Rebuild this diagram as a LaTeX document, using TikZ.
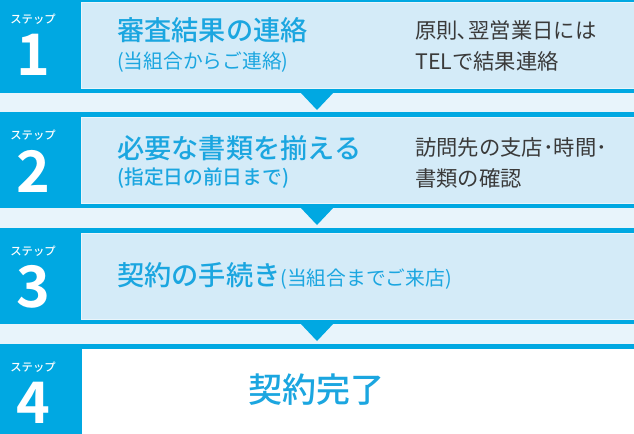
\documentclass[tikz,border=0pt]{standalone}
\usepackage{fontspec}
\setmainfont{Noto Sans CJK JP}[BoldFont={Noto Sans CJK JP Medium}]
\newfontfamily\numfont{Noto Sans CJK JP Bold}
\definecolor{stepblue}{HTML}{00A8E2}
\definecolor{boxblue}{HTML}{D4EBF8}
\definecolor{gapblue}{HTML}{E8F4FB}
\definecolor{headblue}{HTML}{1BA6E0}
\definecolor{notegray}{HTML}{3A3A3A}
\begin{document}
\begin{tikzpicture}[x=0.75pt,y=-0.75pt,
  steplabel/.style={text=white,inner sep=0,font=\fontsize{8.5}{9}\selectfont\bfseries},
  stepnum/.style={text=white,inner sep=0,font=\fontsize{43}{43}\selectfont\numfont},
  headtext/.style={text=headblue,anchor=west,inner sep=0,font=\fontsize{20.4}{24}\selectfont\bfseries},
  subtext/.style={text=headblue,anchor=west,inner sep=0,font=\fontsize{14.8}{16}\selectfont},
  notetext/.style={text=notegray,anchor=west,inner sep=0,align=left,font=\fontsize{16}{23}\selectfont},
  donetext/.style={text=headblue,inner sep=0,font=\fontsize{25.5}{30}\selectfont\bfseries}]
\useasboundingbox (0,0) rectangle (634,433);
\fill[gapblue] (0,0) rectangle (634,433);
% bands 1-3
\foreach \L in {-3,112,228}{
  \fill[stepblue] (0,\L) rectangle (634,\L+96);
  \fill[boxblue,draw=white!50!boxblue,line width=0.6pt] (81.5,\L+5) rectangle (636,\L+91);
  \fill[stepblue] (300,\L+95) -- (334,\L+95) -- (317,\L+113) -- cycle;
}
% band 4
\fill[stepblue] (0,344) rectangle (634,440);
\fill[white] (81.5,349) rectangle (636,440);
% step labels
\node[steplabel] (l1) at (33,19) {ステップ};
\node[stepnum] (n1) at (33,55) {1};
\node[steplabel] (l2) at (33,135) {ステップ};
\node[stepnum] (n2) at (33,171) {2};
\node[steplabel] (l3) at (33,251) {ステップ};
\node[stepnum] (n3) at (33,287) {3};
\node[steplabel] (l4) at (33,367) {ステップ};
\node[stepnum] (n4) at (33,403) {4};
% step 1
\node[headtext] (h1) at (117,30) {審査結果の連絡};
\node[subtext] (s1) at (117,62) {(当組合からご連絡)};
\node[notetext] (r1) at (415,46) {原則､翌営業日には\\TELで結果連絡};
% step 2
\node[headtext] (h2) at (117,148) {必要な書類を揃える};
\node[subtext,font=\fontsize{14.8}{16}\selectfont\bfseries] (s2) at (117,178) {(指定日の前日まで)};
\node[notetext] (r2) at (415,163) {訪問先の支店･時間･\\書類の確認};
% step 3
\node[headtext] (h3) at (117,276) {契約の手続き{\fontsize{14.8}{16}\selectfont\mdseries(当組合までご来店)}};
% step 4
\node[donetext] (h4) at (316,390) {契約完了};
\end{tikzpicture}
\end{document}
